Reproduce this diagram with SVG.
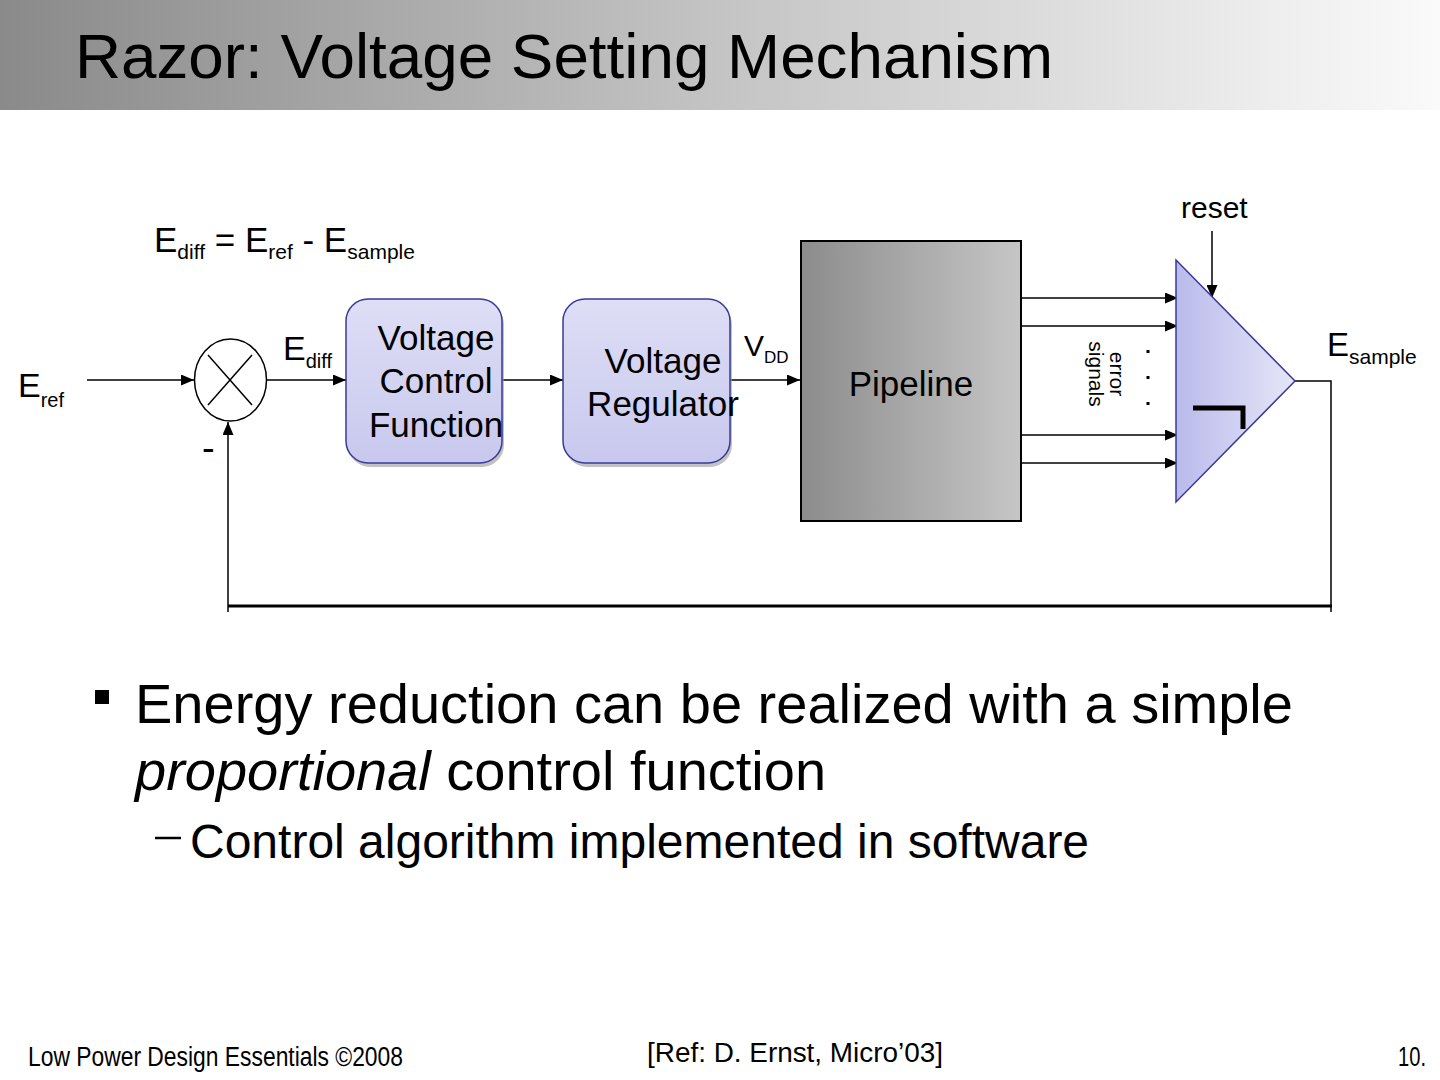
<svg xmlns="http://www.w3.org/2000/svg" width="1440" height="1080" viewBox="0 0 1440 1080">
<defs>
<linearGradient id="hdr" x1="0" y1="0" x2="1" y2="0">
<stop offset="0" stop-color="#8a8a8a"/>
<stop offset="0.5" stop-color="#c4c4c4"/>
<stop offset="1" stop-color="#fafafa"/>
</linearGradient>
<linearGradient id="pipe" x1="0" y1="0" x2="1" y2="0">
<stop offset="0" stop-color="#8c8c8c"/>
<stop offset="1" stop-color="#c6c6c6"/>
</linearGradient>
<linearGradient id="box" x1="0" y1="0" x2="0" y2="1">
<stop offset="0" stop-color="#dedef6"/>
<stop offset="1" stop-color="#c8c8ee"/>
</linearGradient>
<linearGradient id="tri" x1="0" y1="0" x2="1" y2="0">
<stop offset="0" stop-color="#babaec"/>
<stop offset="1" stop-color="#e6e6f8"/>
</linearGradient>
<marker id="arr" markerUnits="userSpaceOnUse" markerWidth="13" markerHeight="11" refX="13" refY="5.5" orient="auto">
<path d="M0,0 L13,5.5 L0,11 z" fill="#000"/>
</marker>
</defs>
<style>
text{font-family:"Liberation Sans",Arial,sans-serif;fill:#000}
.lbl{font-size:34px}
.sub{font-size:20px}
.node{font-size:35px;text-anchor:middle}
.ln{stroke:#000;stroke-width:1.5;fill:none}
.rbox{fill:url(#box);stroke:#3a3a96;stroke-width:1.5}
.shadow{fill:#9a9a9a;opacity:0.6}
</style>
<rect x="0" y="0" width="1440" height="1080" fill="#fff"/>
<rect x="0" y="0" width="1440" height="110" fill="url(#hdr)"/>
<text x="75" y="78" font-size="63" textLength="978" lengthAdjust="spacingAndGlyphs">Razor: Voltage Setting Mechanism</text>

<text x="154" y="252" font-size="35">E<tspan font-size="21" dy="7">diff</tspan><tspan dy="-7" font-size="35"> = E</tspan><tspan font-size="21" dy="7">ref</tspan><tspan dy="-7" font-size="35"> - E</tspan><tspan dy="7" font-size="21">sample</tspan></text>

<g id="connectors">
<line class="ln" x1="87" y1="380" x2="194" y2="380" marker-end="url(#arr)"/>
<line class="ln" x1="267" y1="380" x2="346" y2="380" marker-end="url(#arr)"/>
<line class="ln" x1="502" y1="380" x2="563" y2="380" marker-end="url(#arr)"/>
<line class="ln" x1="730" y1="380" x2="800" y2="380" marker-end="url(#arr)"/>
<line class="ln" x1="1022" y1="298" x2="1178" y2="298" marker-end="url(#arr)"/>
<line class="ln" x1="1022" y1="326" x2="1178" y2="326" marker-end="url(#arr)"/>
<line class="ln" x1="1022" y1="435" x2="1178" y2="435" marker-end="url(#arr)"/>
<line class="ln" x1="1022" y1="463" x2="1178" y2="463" marker-end="url(#arr)"/>
<line class="ln" x1="1212" y1="231" x2="1212" y2="298" marker-end="url(#arr)"/>
<polyline class="ln" points="1295,381 1331,381 1331,612"/>
<line x1="228" y1="606" x2="1332" y2="606" stroke="#000" stroke-width="3"/>
<line class="ln" x1="228" y1="612" x2="228" y2="422" marker-end="url(#arr)"/>
</g>

<g id="eref"><text class="lbl" x="18" y="397">E<tspan class="sub" dy="10">ref</tspan></text></g>

<g id="summer">
<ellipse cx="230.5" cy="380" rx="36" ry="41" fill="#fff" stroke="#000" stroke-width="1.5"/>
<line x1="208" y1="355" x2="252" y2="405" stroke="#000" stroke-width="1.5"/>
<line x1="252" y1="355" x2="208" y2="405" stroke="#000" stroke-width="1.5"/>
<text x="202" y="461" font-size="38">-</text>
</g>

<g id="ediff"><text class="lbl" x="283" y="360">E<tspan class="sub" dy="8">diff</tspan></text></g>

<g id="vcf">
<rect class="shadow" x="348" y="303" width="156" height="164" rx="22"/>
<rect class="rbox" x="346" y="299" width="156" height="164" rx="22"/>
<text class="node" x="436" y="350">Voltage</text>
<text class="node" x="436" y="393">Control</text>
<text class="node" x="436" y="437">Function</text>
</g>

<g id="vreg">
<rect class="shadow" x="565" y="303" width="167" height="164" rx="22"/>
<rect class="rbox" x="563" y="299" width="167" height="164" rx="22"/>
<text class="node" x="663" y="373">Voltage</text>
<text class="node" x="663" y="416">Regulator</text>
</g>

<g id="vdd"><text x="744" y="356" font-size="30">V<tspan font-size="17" dy="7">DD</tspan></text></g>

<g id="pipeline">
<rect x="801" y="241" width="220" height="280" fill="url(#pipe)" stroke="#000" stroke-width="2"/>
<text class="node" x="911" y="396">Pipeline</text>
</g>

<g id="errors">
<text font-size="21" text-anchor="middle" transform="translate(1110,374) rotate(90)">error</text>
<text font-size="21" text-anchor="middle" transform="translate(1089,374) rotate(90)">signals</text>
<rect x="1146.5" y="350" width="3" height="3" fill="#000"/>
<rect x="1146.5" y="376" width="3" height="3" fill="#000"/>
<rect x="1146.5" y="402" width="3" height="3" fill="#000"/>
</g>

<g id="counter">
<polygon points="1176,260 1295,381 1176,502" fill="url(#tri)" stroke="#3a3a96" stroke-width="1.5"/>
<polyline points="1193,408 1243,408 1243,429" fill="none" stroke="#000" stroke-width="5"/>
</g>

<g id="reset"><text x="1181" y="218" font-size="30">reset</text></g>
<g id="esample"><text x="1327" y="356" font-size="33">E<tspan font-size="21" dy="8">sample</tspan></text></g>

<rect x="95" y="690" width="14" height="14" fill="#000"/>
<text x="135" y="723" font-size="56">Energy reduction can be realized with a simple</text>
<text x="135" y="790" font-size="56"><tspan font-style="italic">proportional</tspan> control function</text>
<line x1="155" y1="838" x2="181" y2="838" stroke="#000" stroke-width="2.5"/>
<text x="190" y="858" font-size="48">Control algorithm implemented in software</text>

<text x="28" y="1066" font-size="27" textLength="375" lengthAdjust="spacingAndGlyphs">Low Power Design Essentials ©2008</text>
<text x="647" y="1062" font-size="27" textLength="296" lengthAdjust="spacingAndGlyphs">[Ref: D. Ernst, Micro’03]</text>
<text x="1398" y="1066" font-size="27" textLength="28" lengthAdjust="spacingAndGlyphs">10.</text>
</svg>
